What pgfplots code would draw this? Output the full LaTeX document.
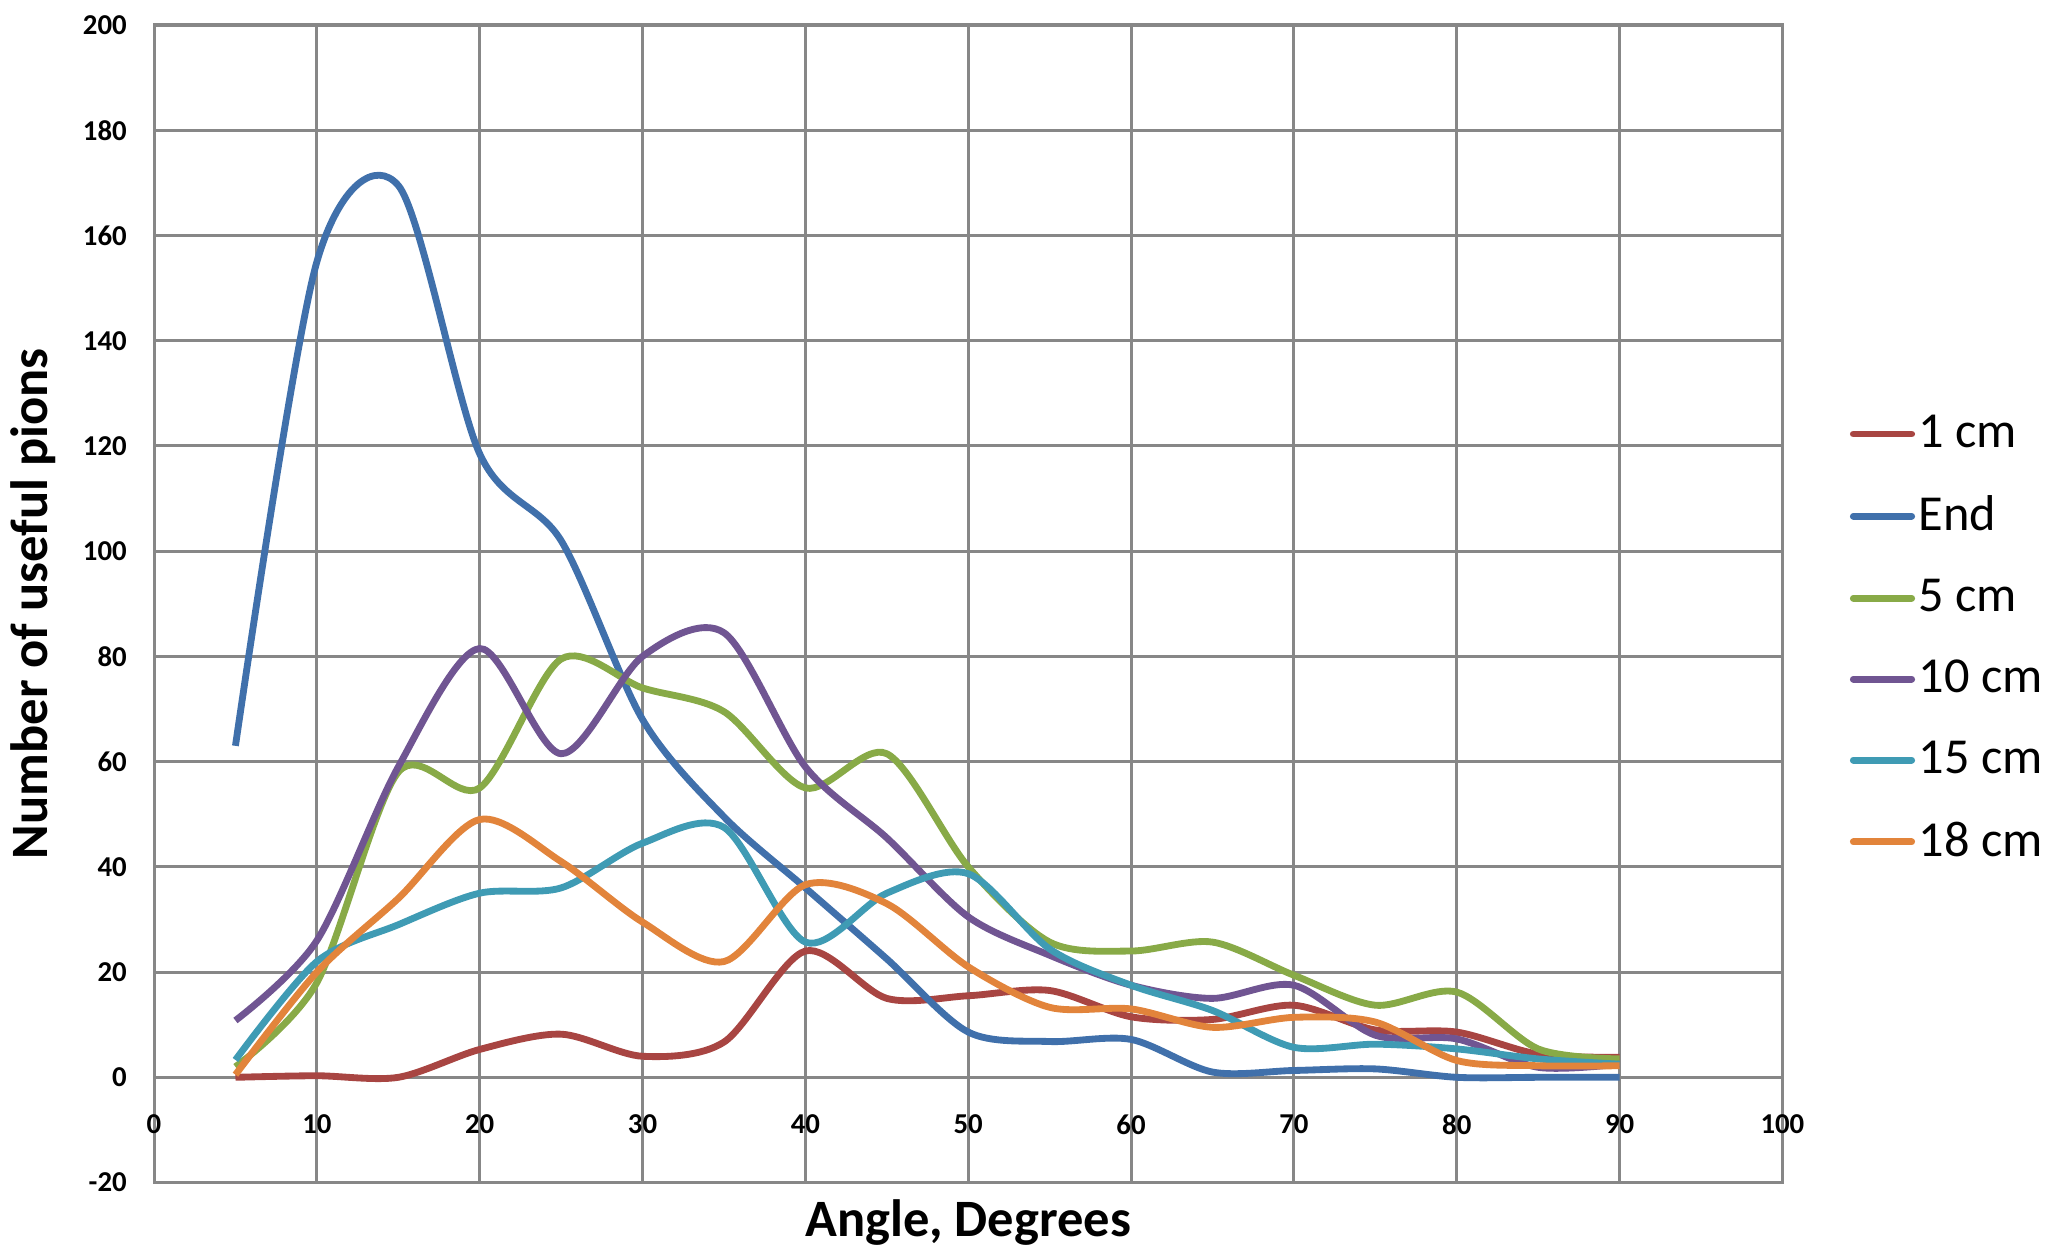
\documentclass[border=0pt]{standalone}
\usepackage{fontspec}
\setmainfont{Carlito}
\usepackage{pgfplots}
\pgfplotsset{compat=1.18}
\definecolor{cRed}{HTML}{A84542}
\definecolor{cBlue}{HTML}{4070AB}
\definecolor{cGreen}{HTML}{88AA47}
\definecolor{cPurple}{HTML}{705592}
\definecolor{cCyan}{HTML}{3F9BB4}
\definecolor{cOrange}{HTML}{E2843B}
\definecolor{cGrid}{HTML}{878787}
\begin{document}
\begin{tikzpicture}
\useasboundingbox (-1.505cm,-0.645cm) rectangle (18.495cm,11.554cm);
\begin{axis}[
  scale only axis,
  width=15.91cm, height=11.31cm,
  xmin=0, xmax=100, ymin=-20, ymax=200,
  xtick={0,10,...,100}, ytick={-20,0,...,200},
  grid=major,
  major grid style={cGrid, line width=0.85pt},
  axis line style={cGrid, line width=0.85pt},
  major tick length=0pt,
  /pgf/number format/assume math mode=true,
  ticklabel style={font=\fontsize{8}{9}\selectfont\bfseries},
  yticklabel style={inner sep=0pt, anchor=east, xshift=-0.26cm},
  xticklabel style={inner sep=0pt, anchor=center, yshift=0.567cm},
  xlabel={Angle, Degrees},
  ylabel={Number of useful pions},
  label style={font=\fontsize{14.6}{16}\selectfont\bfseries},
  xlabel style={at={(axis description cs:0.5,-0.0345)}, anchor=center},
  ylabel style={at={(axis description cs:-0.0742,0.5)}, anchor=center},
  legend style={at={(axis description cs:1.041,0.47)}, anchor=west, draw=none,
    fill=none, font=\fontsize{14}{16}\selectfont, row sep=0.35cm, inner sep=0pt,
    nodes={inner sep=1pt}},
  legend cell align=left,
  legend image code/.code={\draw[#1, line width=1.9pt, line cap=round] (0cm,0cm) -- (0.57cm,0cm);},
  every axis plot/.append style={line width=1.9pt, smooth, tension=0.5, no markers},
]
\addplot[cRed] coordinates {(5,0) (10,0.3) (15,0) (20,5.3) (25,8.2) (30,4) (35,6.7) (40,24) (45,15) (50,15.5) (55,16.5) (60,11.5) (65,11) (70,13.7) (75,9) (80,8.6) (85,4.4) (90,3.8)};
\addlegendentry{1 cm}
\addplot[cBlue] coordinates {(5,63) (10,155) (15,169.5) (20,118.5) (25,102) (30,68) (35,49.5) (40,36) (45,22.5) (50,8.6) (55,6.8) (60,7.2) (65,1) (70,1.3) (75,1.6) (80,0) (85,0) (90,0)};
\addlegendentry{End}
\addplot[cGreen] coordinates {(5,2) (10,18) (15,58) (20,55) (25,79.5) (30,74) (35,69.5) (40,55) (45,61.5) (50,40) (55,25.7) (60,24) (65,25.7) (70,19.4) (75,13.7) (80,16.2) (85,5.4) (90,3.5)};
\addlegendentry{5 cm}
\addplot[cPurple] coordinates {(5,10.8) (10,26) (15,59) (20,81.5) (25,61.5) (30,80) (35,84.5) (40,59) (45,45.5) (50,30.5) (55,23.2) (60,17.5) (65,15) (70,17.5) (75,8) (80,7.3) (85,1.9) (90,2.5)};
\addlegendentry{10 cm}
\addplot[cCyan] coordinates {(5,3.3) (10,22) (15,29) (20,35) (25,36) (30,44.5) (35,47.5) (40,25.7) (45,35) (50,38.7) (55,24.4) (60,17.5) (65,12.7) (70,5.7) (75,6.3) (80,5.4) (85,3.5) (90,2.5)};
\addlegendentry{15 cm}
\addplot[cOrange] coordinates {(5,0.5) (10,20) (15,34) (20,49) (25,41) (30,29.5) (35,22) (40,36.6) (45,33) (50,21) (55,13.3) (60,13) (65,9.5) (70,11.4) (75,10.5) (80,3.2) (85,2.2) (90,2.2)};
\addlegendentry{18 cm}
\end{axis}
\end{tikzpicture}
\end{document}
